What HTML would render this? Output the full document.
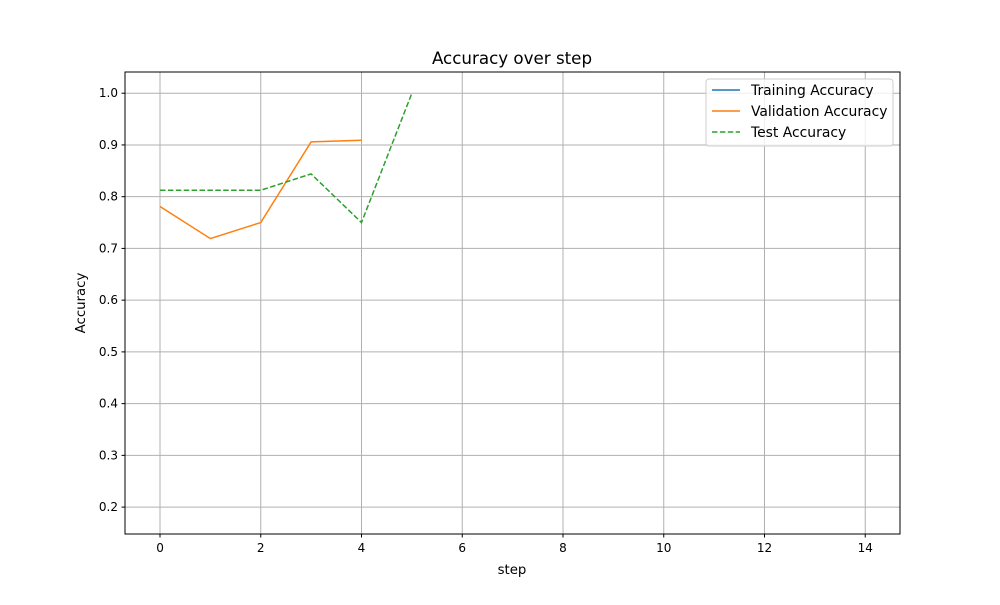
<!DOCTYPE html>
<html><head><meta charset="utf-8"><style>
body{margin:0;background:#fff;font-family:"Liberation Sans","DejaVu Sans",sans-serif;}
svg text{font-family:"DejaVu Sans","Liberation Sans",sans-serif;}
</style></head><body>
<svg id="chart" width="1000" height="600" xmlns="http://www.w3.org/2000/svg">
<rect width="1000" height="600" fill="#fff"/>
<g id="grid"></g>
<g id="series"></g>
<rect x="125" y="72" width="775" height="462" fill="none" stroke="#000" stroke-width="1"/>
<g id="ticks"></g>
<text x="512" y="64" text-anchor="middle" font-size="16.7">Accuracy over step</text>
<text x="512" y="574" text-anchor="middle" font-size="13.3">step</text>
<text x="85" y="303" text-anchor="middle" font-size="13.3" transform="rotate(-90 85 303)">Accuracy</text>
<g>
<rect x="706" y="79" width="187" height="67" fill="#fff" fill-opacity="0.8" stroke="#ccc" rx="3"/>
<line x1="712" y1="90" x2="740" y2="90" stroke="#1f77b4" stroke-width="1.5"/>
<text x="751" y="95" font-size="13.9">Training Accuracy</text>
<line x1="712" y1="111" x2="740" y2="111" stroke="#ff7f0e" stroke-width="1.5"/>
<text x="751" y="116" font-size="13.9">Validation Accuracy</text>
<line x1="712" y1="132" x2="740" y2="132" stroke="#2ca02c" stroke-width="1.5" stroke-dasharray="5.5,2.4"/>
<text x="751" y="137" font-size="13.9">Test Accuracy</text>
</g>
</svg>
<script>
const xTicks=[0,2,4,6,8,10,12,14];
const yTicks=[0.2,0.3,0.4,0.5,0.6,0.7,0.8,0.9,1.0];
const trainSteps=[];
const trainAcc=[];
const valSteps=[0,1,2,3,4];
const valAcc=[0.781,0.719,0.75,0.906,0.909];
const testSteps=[0,1,2,3,4,5];
const testAcc=[0.8125,0.8125,0.8125,0.844,0.75,1.0];
const L=125,R=900,T=72,B=534,xMin=-0.695,xMax=14.69,yMin=0.148,yMax=1.041;
const sx=v=>L+(v-xMin)/(xMax-xMin)*(R-L);
const sy=v=>B-(v-yMin)/(yMax-yMin)*(B-T);
const NS="http://www.w3.org/2000/svg";
function mk(tag,attrs,parent){const e=document.createElementNS(NS,tag);for(const k in attrs)e.setAttribute(k,attrs[k]);parent.appendChild(e);return e;}
const grid=document.getElementById('grid'),ticks=document.getElementById('ticks'),series=document.getElementById('series');
xTicks.forEach(t=>{const x=sx(t);
const g=mk('line',{x1:x,x2:x,y1:T,y2:B,stroke:'#b0b0b0','stroke-width':1},grid);


const tk=mk('line',{x1:x,x2:x,y1:B,y2:B+3.5,stroke:'#000'},ticks);


const lb=mk('text',{x:x,y:B+18,'text-anchor':'middle','font-size':12},ticks);lb.textContent=t;

});
yTicks.forEach(t=>{const y=sy(t);
const g=mk('line',{x1:L,x2:R,y1:y,y2:y,stroke:'#b0b0b0','stroke-width':1},grid);


const tk=mk('line',{x1:L-3.5,x2:L,y1:y,y2:y,stroke:'#000'},ticks);


const lb=mk('text',{x:L-7,y:y+4,'text-anchor':'end','font-size':12},ticks);lb.textContent=t.toFixed(1);

});
function line(xs,ys,color,dash,name){if(!xs.length)return;
const p=mk('polyline',{points:xs.map((x,i)=>sx(x)+','+sy(ys[i])).join(' '),fill:'none',stroke:color,'stroke-width':1.5},series);
if(dash)p.setAttribute('stroke-dasharray',dash);

}
line(trainSteps,trainAcc,'#1f77b4',null,'training-line');
line(valSteps,valAcc,'#ff7f0e',null,'validation-line');
line(testSteps,testAcc,'#2ca02c','5.5,2.4','test-line');
</script>
</body></html>
